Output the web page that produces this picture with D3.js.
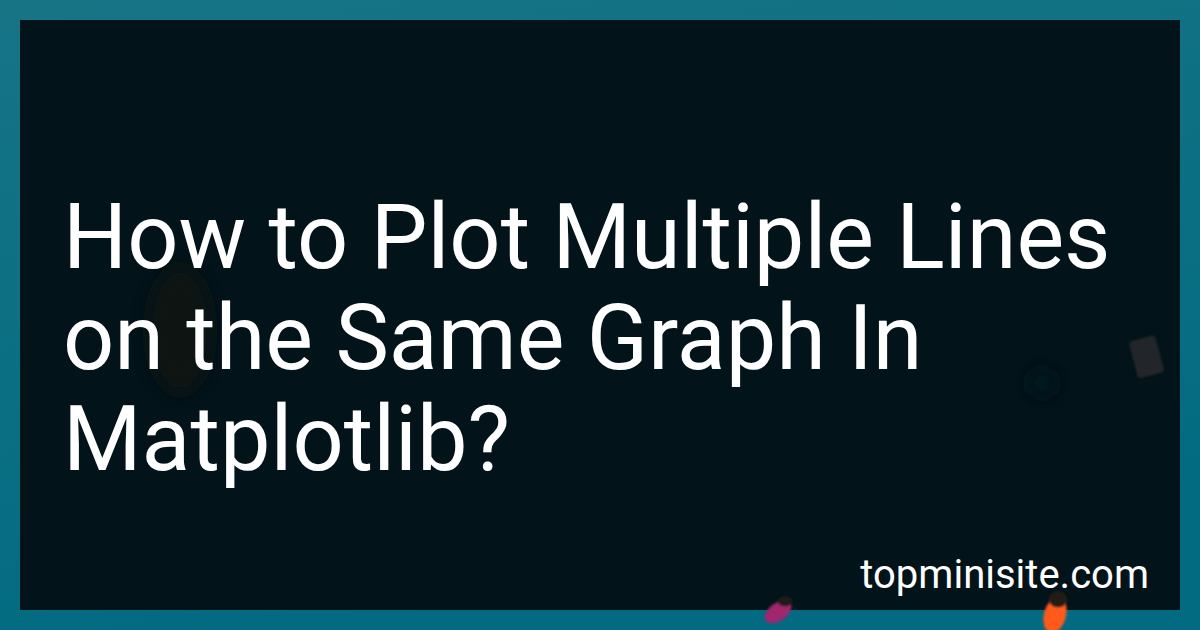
<!DOCTYPE html>
<html>
<head>
<meta charset="utf-8">
<script src="https://cdn.jsdelivr.net/npm/d3@7"></script>
<style>
  html, body { margin: 0; padding: 0; background: #0b6d80; }
  svg { display: block; }
</style>
</head>
<body>
<div id="card"></div>
<script>
// card text
const titleLines = ['How to Plot Multiple Lines', 'on the Same Graph In', 'Matplotlib?'];
const siteName = 'topminisite.com';

const width = 1200;
const height = 630;

const svg = d3.select('#card')
    .append('svg')
    .attr('width', width)
    .attr('height', height);

const defs = svg.append('defs');

// teal frame, slightly lighter at the top left
const frameGrad = defs.append('linearGradient')
    .attr('id', 'frame')
    .attr('x1', 0).attr('y1', 0)
    .attr('x2', 0.3).attr('y2', 1);
frameGrad.append('stop').attr('offset', 0).attr('stop-color', '#167485');
frameGrad.append('stop').attr('offset', 1).attr('stop-color', '#026b81');

const blur = defs.append('filter').attr('id', 'soft')
    .attr('x', '-50%').attr('y', '-50%').attr('width', '200%').attr('height', '200%');
blur.append('feGaussianBlur').attr('stdDeviation', 8);

const blurSmall = defs.append('filter').attr('id', 'softer')
    .attr('x', '-50%').attr('y', '-50%').attr('width', '200%').attr('height', '200%');
blurSmall.append('feGaussianBlur').attr('stdDeviation', 1.2);

svg.append('rect')
    .attr('width', width)
    .attr('height', height)
    .attr('fill', 'url(#frame)');

// dark panel
const panel = { x: 20, y: 20, w: 1160, h: 590 };
svg.append('rect')
    .attr('x', panel.x)
    .attr('y', panel.y)
    .attr('width', panel.w)
    .attr('height', panel.h)
    .attr('fill', '#02131a');

// faint background shapes
svg.append('ellipse')
    .attr('cx', 180).attr('cy', 330)
    .attr('rx', 32).attr('ry', 64)
    .attr('fill', '#15150f')
    .attr('opacity', 0.6)
    .attr('filter', 'url(#soft)');

svg.append('rect')
    .attr('x', 1133).attr('y', 338)
    .attr('width', 27).attr('height', 38)
    .attr('rx', 3)
    .attr('transform', 'rotate(-15 1146 357)')
    .attr('fill', '#22252a')
    .attr('filter', 'url(#softer)');

svg.append('circle')
    .attr('cx', 1042).attr('cy', 383)
    .attr('r', 14)
    .attr('fill', '#06161c')
    .attr('filter', 'url(#soft)');

// the two coloured flecks at the bottom edge
svg.append('ellipse')
    .attr('cx', 778).attr('cy', 612)
    .attr('rx', 15).attr('ry', 9)
    .attr('transform', 'rotate(-35 778 612)')
    .attr('fill', '#a0266e')
    .attr('filter', 'url(#softer)');
svg.append('ellipse')
    .attr('cx', 785).attr('cy', 601)
    .attr('rx', 7).attr('ry', 5)
    .attr('fill', '#1e1a18')
    .attr('filter', 'url(#softer)');

svg.append('ellipse')
    .attr('cx', 1055).attr('cy', 615)
    .attr('rx', 11).attr('ry', 18)
    .attr('transform', 'rotate(15 1055 615)')
    .attr('fill', '#ff5a1a')
    .attr('filter', 'url(#softer)');
svg.append('ellipse')
    .attr('cx', 1058).attr('cy', 599)
    .attr('rx', 9).attr('ry', 8)
    .attr('fill', '#231c18')
    .attr('filter', 'url(#softer)');

// title
const lineHeight = 101;
svg.append('g')
    .selectAll('text')
    .data(titleLines)
    .enter()
    .append('text')
    .attr('x', 63)
    .attr('y', (d, i) => 268 + i * lineHeight)
    .attr('fill', '#ffffff')
    .style('font-family', 'Roboto, "Noto Sans", sans-serif')
    .style('font-size', '90px')
    .text(d => d);

// site name, bottom right
svg.append('text')
    .attr('x', 1149)
    .attr('y', 588)
    .attr('text-anchor', 'end')
    .attr('fill', '#ffffff')
    .style('font-family', 'Roboto, "Noto Sans", sans-serif')
    .style('font-size', '40px')
    .text(siteName);
</script>
</body>
</html>
